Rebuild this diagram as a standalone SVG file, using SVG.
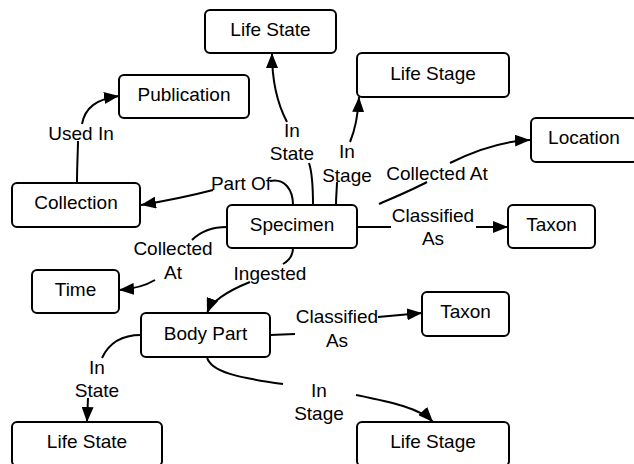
<svg xmlns="http://www.w3.org/2000/svg" width="634" height="464" viewBox="0 0 634 464">
<defs>
<marker id="arr" markerWidth="16" markerHeight="12" refX="15" refY="6" orient="auto" markerUnits="userSpaceOnUse">
<path d="M0,0 L15,6 L0,12 Z" fill="#000"/>
</marker>
<style>
.box{fill:#fff;stroke:#000;stroke-width:2}
.t{font-family:"Liberation Sans",Arial,sans-serif;font-size:19px;fill:#000;text-anchor:middle}
.c{fill:none;stroke:#000;stroke-width:2}
</style>
</defs>
<rect width="634" height="464" fill="#fff"/>
<g id="connectors">
<!-- Used In -->
<path class="c" d="M77,183 C77,165 78,150 78,141"/>
<path class="c" d="M82,124 C85,108 96,99 119,96" marker-end="url(#arr)"/>
<text class="t" x="81" y="140">Used In</text>
<!-- Part Of -->
<path class="c" d="M293,205 C293,190 285,178 270,181"/>
<path class="c" d="M213,190 C190,196 165,201 141,205" marker-end="url(#arr)"/>
<text class="t" x="241" y="190">Part Of</text>
<!-- In State top -->
<path class="c" d="M313,205 C313,185 312,172 309,163"/>
<path class="c" d="M287,122 C278,105 272,80 272,53" marker-end="url(#arr)"/>
<text class="t" x="292" y="137">In</text>
<text class="t" x="292" y="160">State</text>
<!-- In Stage top -->
<path class="c" d="M336,205 C336,195 337,188 337,182"/>
<path class="c" d="M350,142 C355,130 358,115 359,97" marker-end="url(#arr)"/>
<text class="t" x="347" y="158">In</text>
<text class="t" x="347" y="182">Stage</text>
<!-- Collected At to Location -->
<path class="c" d="M379,204 C395,197 412,190 427,182"/>
<path class="c" d="M450,163 C480,148 505,141 530,140" marker-end="url(#arr)"/>
<text class="t" x="437" y="180">Collected At</text>
<!-- Classified As to Taxon -->
<path class="c" d="M357,227 L391,227"/>
<path class="c" d="M476,227 L508,227" marker-end="url(#arr)"/>
<text class="t" x="433" y="222">Classified</text>
<text class="t" x="433" y="245">As</text>
<!-- Collected At to Time -->
<path class="c" d="M227,227 C210,227 200,232 192,240"/>
<path class="c" d="M155,280 C145,286 132,289 119,290" marker-end="url(#arr)"/>
<text class="t" x="173" y="255">Collected</text>
<text class="t" x="173" y="279">At</text>
<!-- Ingested -->
<path class="c" d="M293,248 C293,255 290,260 283,264"/>
<path class="c" d="M250,282 C230,290 212,300 207,313" marker-end="url(#arr)"/>
<text class="t" x="270" y="280">Ingested</text>
<!-- Classified As to Taxon 2 -->
<path class="c" d="M270,335 L295,334"/>
<path class="c" d="M378,317 L422,313" marker-end="url(#arr)"/>
<text class="t" x="337" y="323">Classified</text>
<text class="t" x="337" y="347">As</text>
<!-- In State bottom -->
<path class="c" d="M141,335 C120,335 108,345 102,358"/>
<path class="c" d="M88,398 L87,422" marker-end="url(#arr)"/>
<text class="t" x="97" y="374">In</text>
<text class="t" x="97" y="397">State</text>
<!-- In Stage bottom -->
<path class="c" d="M207,357 C210,372 240,378 283,384"/>
<path class="c" d="M356,395 C390,402 420,408 433,422" marker-end="url(#arr)"/>
<text class="t" x="319" y="397">In</text>
<text class="t" x="319" y="420">Stage</text>
</g>
<g id="lifeStateTop"><rect class="box" x="205" y="10" width="131" height="43" rx="5"/><text class="t" x="270.5" y="36">Life State</text></g>
<g id="publication"><rect class="box" x="119" y="75" width="130" height="43" rx="5"/><text class="t" x="184" y="101">Publication</text></g>
<g id="collection"><rect class="box" x="12" y="183" width="128" height="44" rx="5"/><text class="t" x="76" y="209">Collection</text></g>
<g id="specimen"><rect class="box" x="227" y="205" width="130" height="43" rx="5"/><text class="t" x="292" y="231">Specimen</text></g>
<g id="lifeStageTop"><rect class="box" x="357" y="53" width="152" height="44" rx="5"/><text class="t" x="433" y="80">Life Stage</text></g>
<g id="location"><rect class="box" x="531" y="118" width="106" height="44" rx="5"/><text class="t" x="584" y="144">Location</text></g>
<g id="taxon1"><rect class="box" x="508" y="205" width="87" height="43" rx="5"/><text class="t" x="551.5" y="231">Taxon</text></g>
<g id="time"><rect class="box" x="32" y="270" width="87" height="43" rx="5"/><text class="t" x="75.5" y="296">Time</text></g>
<g id="bodyPart"><rect class="box" x="141" y="313" width="129" height="44" rx="5"/><text class="t" x="205.5" y="340">Body Part</text></g>
<g id="taxon2"><rect class="box" x="422" y="292" width="87" height="44" rx="5"/><text class="t" x="465.5" y="318">Taxon</text></g>
<g id="lifeStateBottom"><rect class="box" x="12" y="422" width="150" height="44" rx="5"/><text class="t" x="87" y="448">Life State</text></g>
<g id="lifeStageBottom"><rect class="box" x="357" y="422" width="152" height="44" rx="5"/><text class="t" x="433" y="448">Life Stage</text></g>
</svg>
